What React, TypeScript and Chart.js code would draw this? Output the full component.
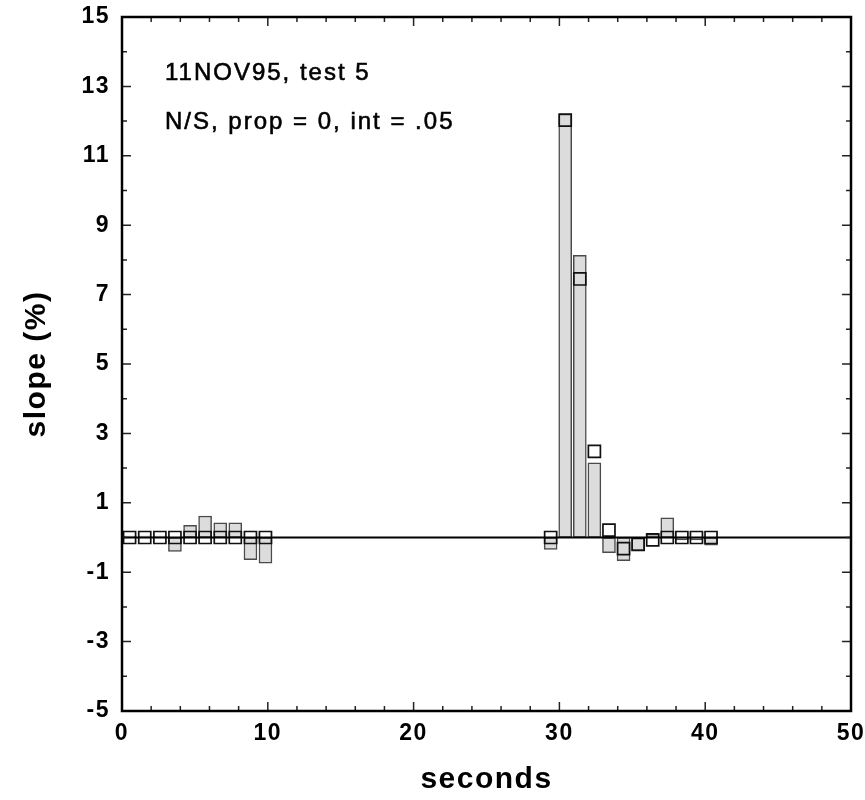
import React, { useEffect, useRef } from 'react';
import { Chart, registerables } from 'chart.js';

Chart.register(...registerables);

// ---- data ----
const barSeconds = [0.52, 1.56, 2.6, 3.63, 4.67, 5.7, 6.74, 7.77, 8.81, 9.84,
  29.4, 30.4, 31.4, 32.4, 33.4, 34.4, 35.4, 36.4, 37.4, 38.4, 39.4, 40.4];
const barSlope = [0.04, 0.04, 0.04, -0.4, 0.35, 0.62, 0.42, 0.42, -0.64, -0.74,
  -0.34, 12.2, 8.13, 2.15, -0.44, -0.67, -0.38, 0.1, 0.57, -0.07, -0.07, -0.22];
const squareSlope = [0, 0, 0, 0, 0, 0, 0, 0, 0, 0,
  0, 12.03, 7.45, 2.48, 0.21, -0.32, -0.2, -0.07, 0, 0, 0, 0];

const xTickValues = [0, 10, 20, 30, 40, 50];
const yTickValues = [-5, -3, -1, 1, 3, 5, 7, 9, 11, 13, 15];
const xMinorTicks = [2, 4, 6, 8, 12, 14, 16, 18, 22, 24, 26, 28, 32, 34, 36, 38, 42, 44, 46, 48];
const yMinorTicks = [-4, -2, 0, 2, 4, 6, 8, 10, 12, 14];
const annotationLines = ['11NOV95, test 5', 'N/S, prop = 0, int = .05'];
const xTitle = 'seconds';
const yTitle = 'slope (%)';

const FONT = '"Liberation Sans", Arial, Helvetica, sans-serif';

const framePlugin = {
  id: 'frameTicks',
  beforeDraw(chart: any) {
    chart.ctx.letterSpacing = '1.5px';
  },
  afterDatasetsDraw(chart: any) {
    const { ctx, chartArea: a, scales } = chart;
    const xs = scales.x, ys = scales.y;
    ctx.save();
    // zero line
    const y0 = ys.getPixelForValue(0);
    ctx.strokeStyle = '#000';
    ctx.lineWidth = 2.2;
    ctx.beginPath();
    ctx.moveTo(a.left, y0);
    ctx.lineTo(a.right, y0);
    ctx.stroke();
    // ticks
    ctx.lineWidth = 1.5;
    ctx.strokeStyle = '#222';
    const major = 9, minor = 5;
    const drawX = (v: number, len: number) => {
      const px = xs.getPixelForValue(v);
      ctx.beginPath();
      ctx.moveTo(px, a.bottom); ctx.lineTo(px, a.bottom - len);
      ctx.moveTo(px, a.top); ctx.lineTo(px, a.top + len);
      ctx.stroke();
    };
    const drawY = (v: number, len: number) => {
      const py = ys.getPixelForValue(v);
      ctx.beginPath();
      ctx.moveTo(a.left, py); ctx.lineTo(a.left + len, py);
      ctx.moveTo(a.right, py); ctx.lineTo(a.right - len, py);
      ctx.stroke();
    };
    xTickValues.forEach(v => drawX(v, major));
    xMinorTicks.forEach(v => drawX(v, minor));
    yTickValues.forEach(v => drawY(v, major));
    yMinorTicks.forEach(v => drawY(v, minor));
    // frame
    ctx.lineWidth = 2.5;
    ctx.strokeStyle = '#000';
    ctx.strokeRect(a.left, a.top, a.right - a.left, a.bottom - a.top);
    // annotations
    ctx.fillStyle = '#000';
    ctx.strokeStyle = '#000';
    ctx.lineWidth = 0.6;
    ctx.font = `24px ${FONT}`;
    ctx.textAlign = 'left';
    ctx.textBaseline = 'middle';
    ctx.letterSpacing = '2px';
    ctx.fillText(annotationLines[0], a.left + 43, a.top + 56);
    ctx.strokeText(annotationLines[0], a.left + 43, a.top + 56);
    ctx.fillText(annotationLines[1], a.left + 43, a.top + 105);
    ctx.strokeText(annotationLines[1], a.left + 43, a.top + 105);
    ctx.restore();
  },
};

export default function App() {
  const ref = useRef<HTMLCanvasElement>(null);
  useEffect(() => {
    if (!ref.current) return;
    const bars = barSeconds.map((x, i) => ({ x, y: barSlope[i] }));
    const squares = barSeconds.map((x, i) => ({ x, y: squareSlope[i] }));
    const chart = new Chart(ref.current, {
      type: 'bar',
      data: {
        datasets: [
          {
            type: 'scatter',
            data: squares,
            order: 0,
            pointStyle: 'rect',
            pointRadius: 8.5,
            pointHoverRadius: 8.5,
            borderWidth: 1.7,
            borderColor: '#111',
            backgroundColor: 'rgba(0,0,0,0)',
            showLine: false,
          } as any,
          {
            type: 'bar',
            data: bars,
            order: 1,
            backgroundColor: '#dcdcdc',
            borderColor: '#4a4a4a',
            borderWidth: 1.5,
            borderSkipped: false,
            barThickness: 13,
          } as any,
        ],
      },
      options: {
        responsive: false,
        animation: false,
        events: [],
        layout: { padding: { left: 0, top: 17, right: 14, bottom: 0 } },
        plugins: { legend: { display: false }, tooltip: { enabled: false } },
        scales: {
          x: {
            type: 'linear',
            offset: false,
            min: 0,
            max: 50,
            grid: { display: false, drawTicks: false },
            border: { display: false },
            afterBuildTicks: (s: any) => { s.ticks = xTickValues.map(v => ({ value: v })); },
            afterFit: (s: any) => { s.height = 89; s.paddingLeft = 0; s.paddingRight = 0; },
            ticks: {
              padding: 9,
              color: '#000',
              maxRotation: 0,
              autoSkip: false,
              font: { family: FONT, size: 23, weight: 'bold' },
            },
            title: {
              display: true,
              text: xTitle,
              color: '#000',
              padding: { top: 0, bottom: 2 },
              font: { family: FONT, size: 30, weight: 'bold' },
            },
          },
          y: {
            type: 'linear',
            min: -5,
            max: 15,
            grid: { display: false, drawTicks: false },
            border: { display: false },
            afterBuildTicks: (s: any) => { s.ticks = yTickValues.map(v => ({ value: v })); },
            afterFit: (s: any) => { s.width = 122; s.paddingTop = 0; s.paddingBottom = 0; },
            ticks: {
              padding: 12,
              color: '#000',
              autoSkip: false,
              font: { family: FONT, size: 23, weight: 'bold' },
            },
            title: {
              display: true,
              text: yTitle,
              color: '#000',
              padding: { top: 19, bottom: 0 },
              font: { family: FONT, size: 30, weight: 'bold' },
            },
          },
        },
      },
      plugins: [framePlugin],
    });
    return () => chart.destroy();
  }, []);
  return (
    <div style={{ position: 'absolute', left: 0, top: 0, width: 865, height: 800, background: '#fff' }}>
      <canvas ref={ref} width={865} height={800} style={{ display: 'block' }} />
    </div>
  );
}
